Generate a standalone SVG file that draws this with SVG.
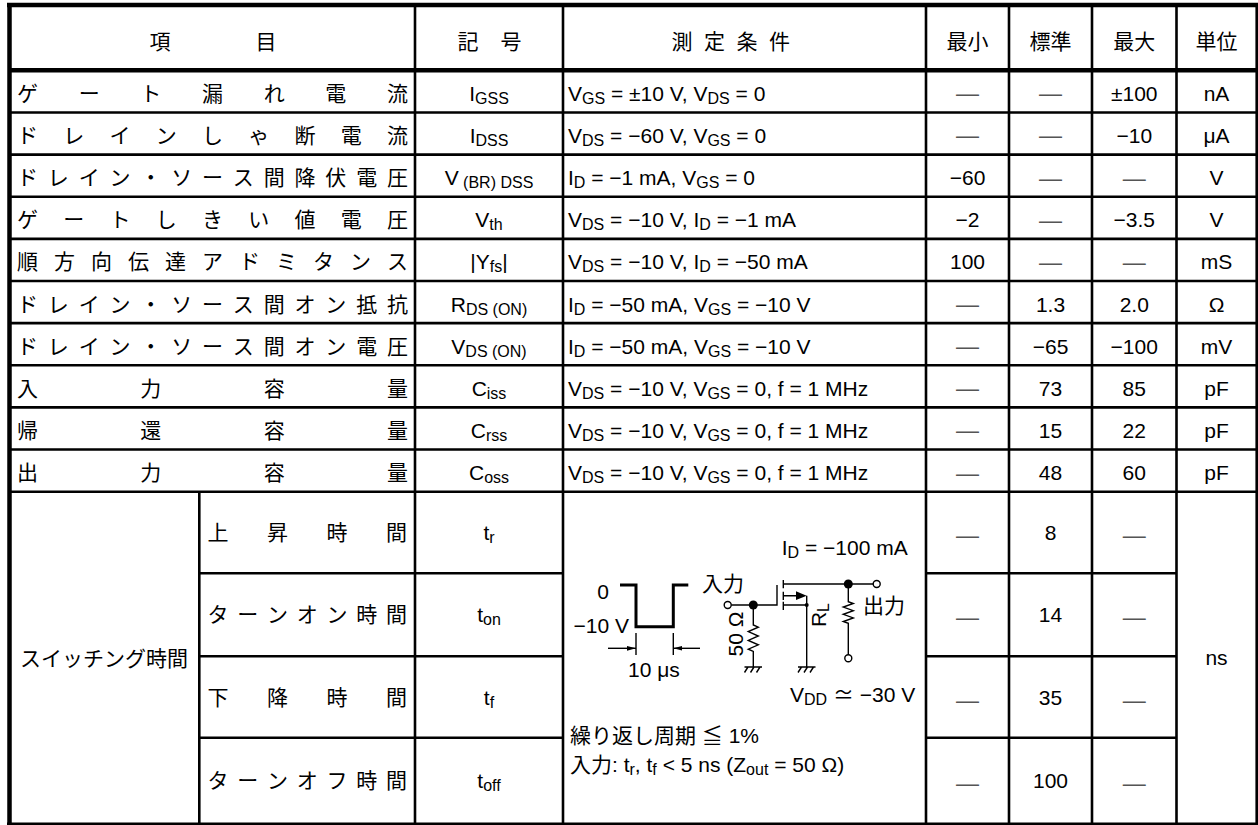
<svg xmlns="http://www.w3.org/2000/svg" width="1258" height="825" viewBox="0 0 1258 825">
<style>
text{font-family:"Liberation Sans",Arial,"Noto Sans CJK JP",sans-serif;font-size:21px;fill:#000}
.j{font-family:"Noto Sans CJK JP",sans-serif}
.c{text-anchor:middle}
.e{text-anchor:end}
.s{font-size:16px}
.d{fill:#555;font-size:23px;text-anchor:middle}
.g{stroke:#000;stroke-width:2.6;fill:none}
.k{stroke:#000;stroke-width:4.5;fill:none}
.w{stroke:#000;stroke-width:1.4;fill:none}
.o{stroke:#000;stroke-width:1.4;fill:#fff}
</style>
<defs>
<marker id="ah" markerWidth="10" markerHeight="6" refX="9" refY="3" orient="auto" markerUnits="userSpaceOnUse">
<path d="M0,0.6 L9,3 L0,5.4 Z" fill="#000"/>
</marker>
</defs>
<rect width="1258" height="825" fill="#fff"/>

<g id="grid">
<path class="g" d="M9.5,112.44H1256.5M9.5,154.58H1256.5M9.5,196.72H1256.5M9.5,238.86H1256.5M9.5,281H1256.5M9.5,323.14H1256.5M9.5,365.28H1256.5M9.5,407.42H1256.5M9.5,449.56H1256.5M9.5,491.7H1256.5"/>
<path class="g" d="M199.3,573.3H563M199.3,656.2H563M199.3,737.7H563M926,573.3H1176.5M926,656.2H1176.5M926,737.7H1176.5"/>
<path class="g" d="M199.3,491.7V825M415,5V825M563,5V825M926,5V825M1009,5V825M1092,5V825M1176.5,5V825M1256.7,5V825M7,823.8H1258"/>
<path class="k" d="M9.5,3V825M7,5H1258M9.5,70.3H1256.5"/>
</g>

<g id="header" class="j">
<text class="j c" x="160" y="48.5">項</text>
<text class="j c" x="266" y="48.5">目</text>
<text class="j c" x="468" y="48.5">記</text>
<text class="j c" x="511" y="48.5">号</text>
<text class="j c" x="682" y="48.5">測</text>
<text class="j c" x="714.5" y="48.5">定</text>
<text class="j c" x="747" y="48.5">条</text>
<text class="j c" x="779.5" y="48.5">件</text>
<text class="j c" x="967.5" y="48.5">最小</text>
<text class="j c" x="1050.5" y="48.5">標準</text>
<text class="j c" x="1134.25" y="48.5">最大</text>
<text class="j c" x="1216.5" y="48.5">単位</text>
</g>

<g id="row-igss">
<text class="j" x="17 78.7 140.3 202 263.7 325.3 387" y="100.8">ゲート漏れ電流</text>
<text class="c" x="489" y="100.8">I<tspan class="s" dy="3">GSS</tspan></text>
<text x="568" y="100.8">V<tspan class="s" dy="3">GS</tspan><tspan dy="-3"> = ±10 V, V</tspan><tspan class="s" dy="3">DS</tspan><tspan dy="-3"> = 0</tspan></text>
<text class="d" x="967.5" y="101.3">—</text>
<text class="d" x="1050.5" y="101.3">—</text>
<text class="c" x="1134.25" y="100.8">±100</text>
<text class="c" x="1216.5" y="100.8">nA</text>
</g>

<g id="row-idss">
<text class="j" x="17 63.25 109.5 155.75 202 248.25 294.5 340.75 387" y="142.9">ドレインしゃ断電流</text>
<text class="c" x="489" y="142.9">I<tspan class="s" dy="3">DSS</tspan></text>
<text x="568" y="142.9">V<tspan class="s" dy="3">DS</tspan><tspan dy="-3"> = −60 V, V</tspan><tspan class="s" dy="3">GS</tspan><tspan dy="-3"> = 0</tspan></text>
<text class="d" x="967.5" y="143.4">—</text>
<text class="d" x="1050.5" y="143.4">—</text>
<text class="c" x="1134.25" y="142.9">−10</text>
<text class="c" x="1216.5" y="142.9">μA</text>
</g>

<g id="row-vbr">
<text class="j" x="17 47.8 78.7 109.5 140.3 171.2 202 232.8 263.7 294.5 325.3 356.2 387" y="185.1">ドレイン・ソース間降伏電圧</text>
<text class="c" x="489" y="185.1">V<tspan class="s" dy="3"> (BR) DSS</tspan></text>
<text x="568" y="185.1">I<tspan class="s" dy="3">D</tspan><tspan dy="-3"> = −1 mA, V</tspan><tspan class="s" dy="3">GS</tspan><tspan dy="-3"> = 0</tspan></text>
<text class="c" x="967.5" y="185.1">−60</text>
<text class="d" x="1050.5" y="185.6">—</text>
<text class="d" x="1134.25" y="185.6">—</text>
<text class="c" x="1216.5" y="185.1">V</text>
</g>

<g id="row-vth">
<text class="j" x="17 63.25 109.5 155.75 202 248.25 294.5 340.75 387" y="227.2">ゲートしきい値電圧</text>
<text class="c" x="489" y="227.2">V<tspan class="s" dy="3">th</tspan></text>
<text x="568" y="227.2">V<tspan class="s" dy="3">DS</tspan><tspan dy="-3"> = −10 V, I</tspan><tspan class="s" dy="3">D</tspan><tspan dy="-3"> = −1 mA</tspan></text>
<text class="c" x="967.5" y="227.2">−2</text>
<text class="d" x="1050.5" y="227.7">—</text>
<text class="c" x="1134.25" y="227.2">−3.5</text>
<text class="c" x="1216.5" y="227.2">V</text>
</g>

<g id="row-yfs">
<text class="j" x="17 54 91 128 165 202 239 276 313 350 387" y="269.4">順方向伝達アドミタンス</text>
<text class="c" x="489" y="269.4">|Y<tspan class="s" dy="3">fs</tspan><tspan dy="-3">|</tspan></text>
<text x="568" y="269.4">V<tspan class="s" dy="3">DS</tspan><tspan dy="-3"> = −10 V, I</tspan><tspan class="s" dy="3">D</tspan><tspan dy="-3"> = −50 mA</tspan></text>
<text class="c" x="967.5" y="269.4">100</text>
<text class="d" x="1050.5" y="269.9">—</text>
<text class="d" x="1134.25" y="269.9">—</text>
<text class="c" x="1216.5" y="269.4">mS</text>
</g>

<g id="row-rdson">
<text class="j" x="17 47.8 78.7 109.5 140.3 171.2 202 232.8 263.7 294.5 325.3 356.2 387" y="311.5">ドレイン・ソース間オン抵抗</text>
<text class="c" x="489" y="311.5">R<tspan class="s" dy="3">DS (ON)</tspan></text>
<text x="568" y="311.5">I<tspan class="s" dy="3">D</tspan><tspan dy="-3"> = −50 mA, V</tspan><tspan class="s" dy="3">GS</tspan><tspan dy="-3"> = −10 V</tspan></text>
<text class="d" x="967.5" y="312">—</text>
<text class="c" x="1050.5" y="311.5">1.3</text>
<text class="c" x="1134.25" y="311.5">2.0</text>
<text class="c" x="1216.5" y="311.5">Ω</text>
</g>

<g id="row-vdson">
<text class="j" x="17 47.8 78.7 109.5 140.3 171.2 202 232.8 263.7 294.5 325.3 356.2 387" y="353.6">ドレイン・ソース間オン電圧</text>
<text class="c" x="489" y="353.6">V<tspan class="s" dy="3">DS (ON)</tspan></text>
<text x="568" y="353.6">I<tspan class="s" dy="3">D</tspan><tspan dy="-3"> = −50 mA, V</tspan><tspan class="s" dy="3">GS</tspan><tspan dy="-3"> = −10 V</tspan></text>
<text class="d" x="967.5" y="354.1">—</text>
<text class="c" x="1050.5" y="353.6">−65</text>
<text class="c" x="1134.25" y="353.6">−100</text>
<text class="c" x="1216.5" y="353.6">mV</text>
</g>

<g id="row-ciss">
<text class="j" x="17 140.3 263.7 387" y="395.8">入力容量</text>
<text class="c" x="489" y="395.8">C<tspan class="s" dy="3">iss</tspan></text>
<text x="568" y="395.8">V<tspan class="s" dy="3">DS</tspan><tspan dy="-3"> = −10 V, V</tspan><tspan class="s" dy="3">GS</tspan><tspan dy="-3"> = 0, f = 1 MHz</tspan></text>
<text class="d" x="967.5" y="396.3">—</text>
<text class="c" x="1050.5" y="395.8">73</text>
<text class="c" x="1134.25" y="395.8">85</text>
<text class="c" x="1216.5" y="395.8">pF</text>
</g>

<g id="row-crss">
<text class="j" x="17 140.3 263.7 387" y="437.9">帰還容量</text>
<text class="c" x="489" y="437.9">C<tspan class="s" dy="3">rss</tspan></text>
<text x="568" y="437.9">V<tspan class="s" dy="3">DS</tspan><tspan dy="-3"> = −10 V, V</tspan><tspan class="s" dy="3">GS</tspan><tspan dy="-3"> = 0, f = 1 MHz</tspan></text>
<text class="d" x="967.5" y="438.4">—</text>
<text class="c" x="1050.5" y="437.9">15</text>
<text class="c" x="1134.25" y="437.9">22</text>
<text class="c" x="1216.5" y="437.9">pF</text>
</g>

<g id="row-coss">
<text class="j" x="17 140.3 263.7 387" y="480.1">出力容量</text>
<text class="c" x="489" y="480.1">C<tspan class="s" dy="3">oss</tspan></text>
<text x="568" y="480.1">V<tspan class="s" dy="3">DS</tspan><tspan dy="-3"> = −10 V, V</tspan><tspan class="s" dy="3">GS</tspan><tspan dy="-3"> = 0, f = 1 MHz</tspan></text>
<text class="d" x="967.5" y="480.6">—</text>
<text class="c" x="1050.5" y="480.1">48</text>
<text class="c" x="1134.25" y="480.1">60</text>
<text class="c" x="1216.5" y="480.1">pF</text>
</g>

<g id="switching">
<text class="j" x="20" y="665.6">スイッチング時間</text>
<text class="j" x="207.5 267 326.5 386" y="540">上昇時間</text>
<text class="j" x="207.5 237.25 267 296.75 326.5 356.25 386" y="622.3">ターンオン時間</text>
<text class="j" x="207.5 267 326.5 386" y="704.5">下降時間</text>
<text class="j" x="207.5 237.25 267 296.75 326.5 356.25 386" y="788.3">ターンオフ時間</text>
<text class="c" x="489" y="540">t<tspan class="s" dy="3">r</tspan></text>
<text class="c" x="489" y="622.3">t<tspan class="s" dy="3">on</tspan></text>
<text class="c" x="489" y="704.5">t<tspan class="s" dy="3">f</tspan></text>
<text class="c" x="489" y="788.3">t<tspan class="s" dy="3">off</tspan></text>
<text class="d" x="967.5" y="543">—</text>
<text class="c" x="1050.5" y="540">8</text>
<text class="d" x="1134.25" y="543">—</text>
<text class="d" x="967.5" y="625.3">—</text>
<text class="c" x="1050.5" y="622.3">14</text>
<text class="d" x="1134.25" y="625.3">—</text>
<text class="d" x="967.5" y="707.5">—</text>
<text class="c" x="1050.5" y="704.5">35</text>
<text class="d" x="1134.25" y="707.5">—</text>
<text class="d" x="967.5" y="791.3">—</text>
<text class="c" x="1050.5" y="788.3">100</text>
<text class="d" x="1134.25" y="791.3">—</text>
<text class="c" x="1216.5" y="665">ns</text>
</g>

<g id="circuit">
<text x="781.7" y="555">I<tspan class="s" dy="3">D</tspan><tspan dy="-3"> = −100 mA</tspan></text>
<text class="e" x="609" y="598.5">0</text>
<text class="e" x="629" y="633.3">−10 V</text>
<path d="M620,585H636V626.7H673.3V585H688.3" fill="none" stroke="#000" stroke-width="3"/>
<path class="w" d="M636,633V655M673.3,633V655" stroke-width="1.1"/>
<path class="w" d="M608,648.3H636" stroke-width="1.1" marker-end="url(#ah)"/>
<path class="w" d="M700,648.3H673.3" stroke-width="1.1" marker-end="url(#ah)"/>
<text x="628" y="677">10 μs</text>
<text class="j" x="702" y="591">入力</text>
<text class="j" x="863" y="613">出力</text>
<path class="w" d="M731.2,605H777V585"/>
<path class="w" d="M783.3,580V588.3M783.3,591.7V600M783.3,601.7V610"/>
<path class="w" d="M783.3,584H873.2"/>
<path class="w" d="M783.3,605H806.7M783.3,595.7H798M806.7,595.7V667"/>
<path d="M796,591.3L806.7,595.7L796,600.1Z" fill="#000"/>
<circle cx="806.7" cy="605" r="2"/>
<path class="w" d="M753.3,605V625l5,2.2l-10,4.4l10,4.4l-10,4.4l10,4.4l-10,4.4l5,2.2V667"/>
<path class="w" d="M848.3,584V601.7l5,1.8l-10,3.6l10,3.6l-10,3.6l10,3.6l-10,3.6l5,1.8V654.8"/>
<circle cx="753.3" cy="605" r="4.5"/>
<circle cx="848.3" cy="584" r="4.5"/>
<circle class="o" cx="727.7" cy="605" r="3.5"/>
<circle class="o" cx="876.7" cy="584" r="3.5"/>
<circle class="o" cx="848.3" cy="658.3" r="3.5"/>
<path class="w" d="M744.5,667H762M748,667l-3.5,5.5M754,667l-3.5,5.5M760,667l-3.5,5.5"/>
<path class="w" d="M798,667H815.5M801.5,667l-3.5,5.5M807.5,667l-3.5,5.5M813.5,667l-3.5,5.5"/>
<text class="c" transform="translate(742.5,634) rotate(-90)">50 Ω</text>
<text class="c" transform="translate(826,615) rotate(-90)">R<tspan class="s" dy="3">L</tspan></text>
<text x="790" y="702">V<tspan class="s" dy="3">DD</tspan><tspan dy="-3"> ≃ −30 V</tspan></text>
<text x="570" y="742.5">繰り返し周期 ≦ 1%</text>
<text x="570" y="771.5">入力: t<tspan class="s" dy="3">r</tspan><tspan dy="-3">, t</tspan><tspan class="s" dy="3">f</tspan><tspan dy="-3"> &lt; 5 ns (Z</tspan><tspan class="s" dy="3">out</tspan><tspan dy="-3"> = 50 Ω)</tspan></text>
</g>
</svg>
